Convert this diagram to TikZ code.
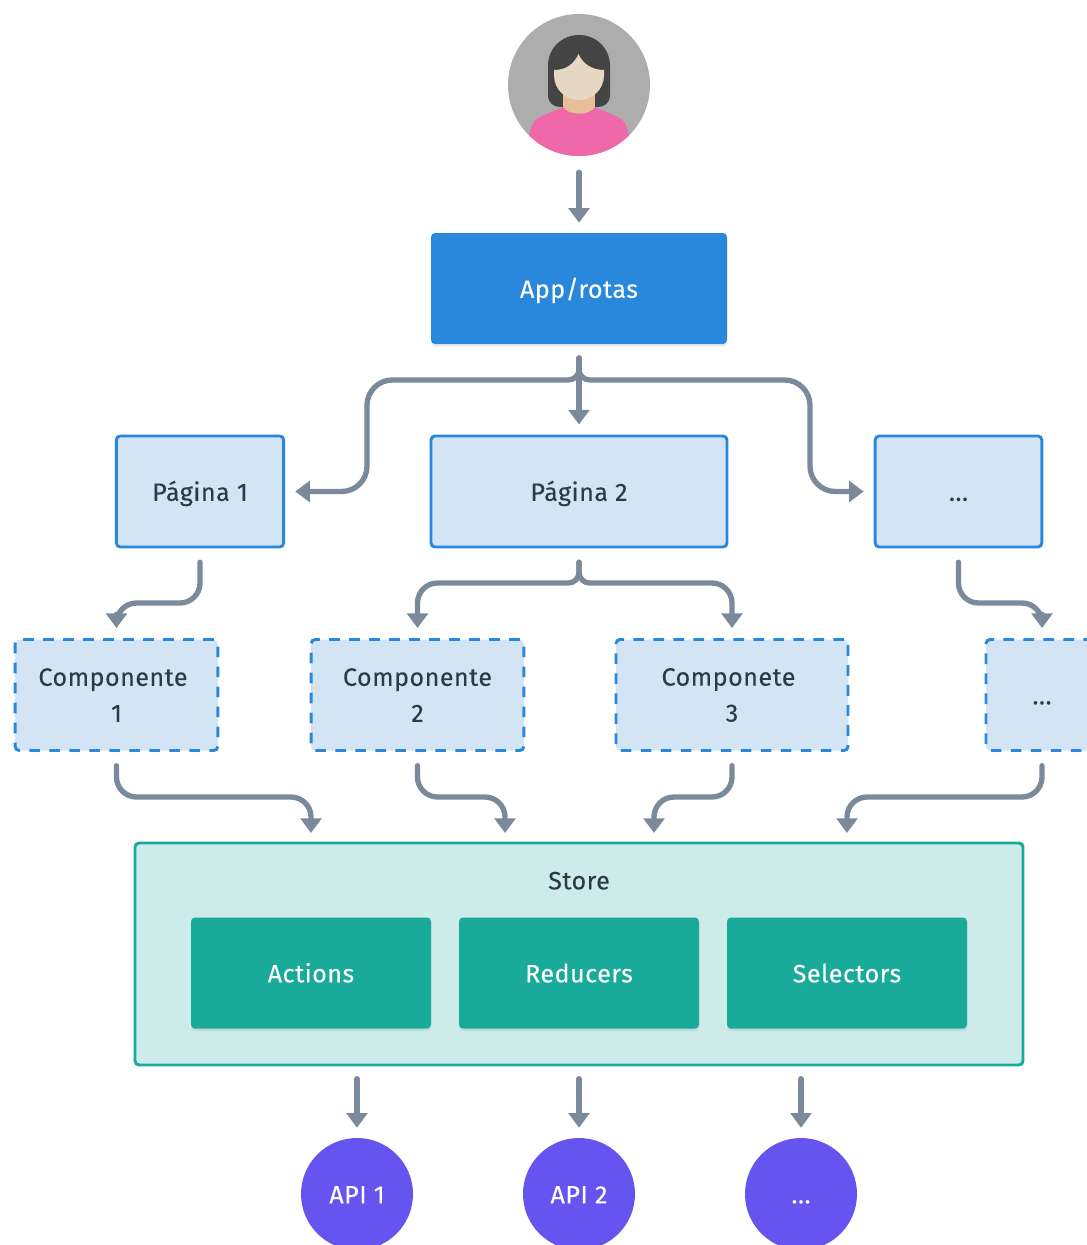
\documentclass[tikz,border=0pt]{standalone}
\usepackage{fontspec}
\setmainfont{Fira Sans}[LetterSpace=2,FakeBold=0.15]
\usetikzlibrary{arrows.meta,shadows,calc}
\definecolor{conn}{HTML}{7A8A9A}
\definecolor{bluem}{HTML}{2A88DC}
\definecolor{bluel}{HTML}{D3E5F5}
\definecolor{teal}{HTML}{19AA99}
\definecolor{teall}{HTML}{CCEBE9}
\definecolor{purp}{HTML}{6554F0}
\definecolor{ink}{HTML}{2B3A47}
\definecolor{hair}{HTML}{444444}
\definecolor{neck}{HTML}{E7C09B}
\definecolor{pinkb}{HTML}{EE68AA}
\definecolor{skin}{HTML}{E6D8C2}
\tikzset{
  x=0.75pt,y=-0.75pt,
  base/.style={rectangle,rounded corners=3pt,inner sep=0pt,align=center,font=\fontsize{18.8}{27}\selectfont},
  oneline/.style={text height=14pt,text depth=0pt},
  solidbox/.style={base,oneline,text=white,draw=none,drop shadow={shadow xshift=0pt,shadow yshift=-2pt,opacity=.15}},
  appbox/.style={solidbox,fill=bluem},
  greenbox/.style={solidbox,fill=teal,minimum width=180pt,minimum height=83.25pt},
  pagebox/.style={base,text=ink,fill=bluel,draw=bluem,line width=2.2pt,minimum height=83.25pt},
  compbox/.style={pagebox,dash pattern=on 8pt off 7pt},
  storebox/.style={base,fill=teall,draw=teal,line width=2.2pt},
  apinode/.style={circle,fill=purp,text=white,minimum size=84pt,inner sep=0pt,oneline,font=\fontsize{18.8}{27}\selectfont},
  link/.style={draw=conn,line width=4pt,line cap=round,rounded corners=19pt,shorten <=10.3pt,shorten >=7.5pt,
    -{Triangle[width=15.5pt,length=11pt]}},
  elbow/.style={link,rounded corners=15pt}
}
\begin{document}
\begin{tikzpicture}
\useasboundingbox (0,0) rectangle (1087,1245);
% user avatar
\node[circle,fill=black!32,minimum size=106.5pt,inner sep=0pt] (user) at (579,85) {};
\begin{scope}
  \clip (579,85) circle [radius=53.25pt];
  \fill[hair] (548,66) .. controls (548,48) and (562,35) .. (579,35) .. controls (596,35) and (610,48) .. (610,66)
     -- (610,95) .. controls (610,103) and (604,107) .. (598,107) -- (560,107) .. controls (554,107) and (548,103) .. (548,95) -- cycle;
  \fill[neck] (563,90) rectangle (595,114);
  \fill[pinkb] (530,132) .. controls (531,125) and (534,120) .. (540,117) -- (563,107)
     .. controls (568,116) and (590,116) .. (595,107) -- (618,117) .. controls (624,120) and (627,125) .. (628,132) -- (640,170) -- (518,170) -- cycle;
  \fill[skin] (554,70) .. controls (566,70) and (574,64) .. (578.5,54)
     .. controls (583,64) and (592,70) .. (604,70) -- (604,75) .. controls (604,90) and (592,100) .. (579,100)
     .. controls (566,100) and (554,90) .. (554,75) -- cycle;
\end{scope}
% boxes
\node[appbox,minimum width=222pt,minimum height=83.25pt] (app) at (579,288.5) {App/rotas};
\node[pagebox,oneline,minimum width=125.5pt] (p1) at (200,491.5) {Página 1};
\node[pagebox,oneline,minimum width=222pt] (p2) at (579,491.5) {Página 2};
\node[pagebox,oneline,minimum width=125pt] (p3) at (958.5,491.5) {...};
\node[compbox,minimum width=152pt] (c1) at (116.5,695) {Componente\kern5.25pt\\1};
\node[compbox,minimum width=159.5pt] (c2) at (417.5,695) {Componente\\2};
\node[compbox,minimum width=174pt] (c3) at (732,695) {Componete\kern5.25pt\\3};
\node[compbox,oneline,minimum width=84pt] (c4) at (1042,695) {...};
\node[storebox,minimum width=666pt,minimum height=166.5pt] (store) at (579,954) {};
\node[font=\fontsize{18.8}{27}\selectfont,text=ink,inner sep=0pt,oneline] (storelabel) at (579,880) {Store};
\node[greenbox] (actions) at (311,973) {Actions};
\node[greenbox] (reducers) at (579,973) {Reducers};
\node[greenbox] (selectors) at (847,973) {Selectors};
\node[apinode] (api1) at (357,1194) {API 1};
\node[apinode] (api2) at (579,1194) {API 2};
\node[apinode] (api3) at (801,1194) {...};
% anchor points on the store edge
\coordinate (sa) at (311,843);
\coordinate (sb) at (505,843);
\coordinate (sc) at (654,843);
\coordinate (sd) at (847,843);
\coordinate (se) at (357,1065);
\coordinate (sf) at (579,1065);
\coordinate (sg) at (801,1065);
% connectors
\draw[link,shorten <=12pt] (user.south) -- (app.north);
\draw[link] (app.south) -- (p2.north);
\draw[link] (app.south) [rounded corners=8pt] -- (579,380) [rounded corners=19pt] -- (367,380) -- (367,491.5) -- (p1.east);
\draw[link] (app.south) [rounded corners=8pt] -- (579,380) [rounded corners=19pt] -- (810,380) -- (810,491.5) -- (p3.west);
\draw[elbow] (p1.south) -- (200,603) -- (116.5,603) -- (c1.north);
\draw[elbow] (p2.south) [rounded corners=8pt] -- (579,583) [rounded corners=15pt] -- (417.5,583) -- (c2.north);
\draw[elbow] (p2.south) [rounded corners=8pt] -- (579,583) [rounded corners=15pt] -- (732,583) -- (c3.north);
\draw[elbow] (p3.south) -- (958.5,603) -- (1042,603) -- (c4.north);
\draw[elbow] (c1.south) -- (116.5,797) -- (311,797) -- (sa);
\draw[elbow] (c2.south) -- (417.5,797) -- (505,797) -- (sb);
\draw[elbow] (c3.south) -- (732,797) -- (654,797) -- (sc);
\draw[elbow] (c4.south) -- (1042,797) -- (847,797) -- (sd);
\draw[link] (se) -- (api1.north);
\draw[link] (sf) -- (api2.north);
\draw[link] (sg) -- (api3.north);
\end{tikzpicture}
\end{document}
